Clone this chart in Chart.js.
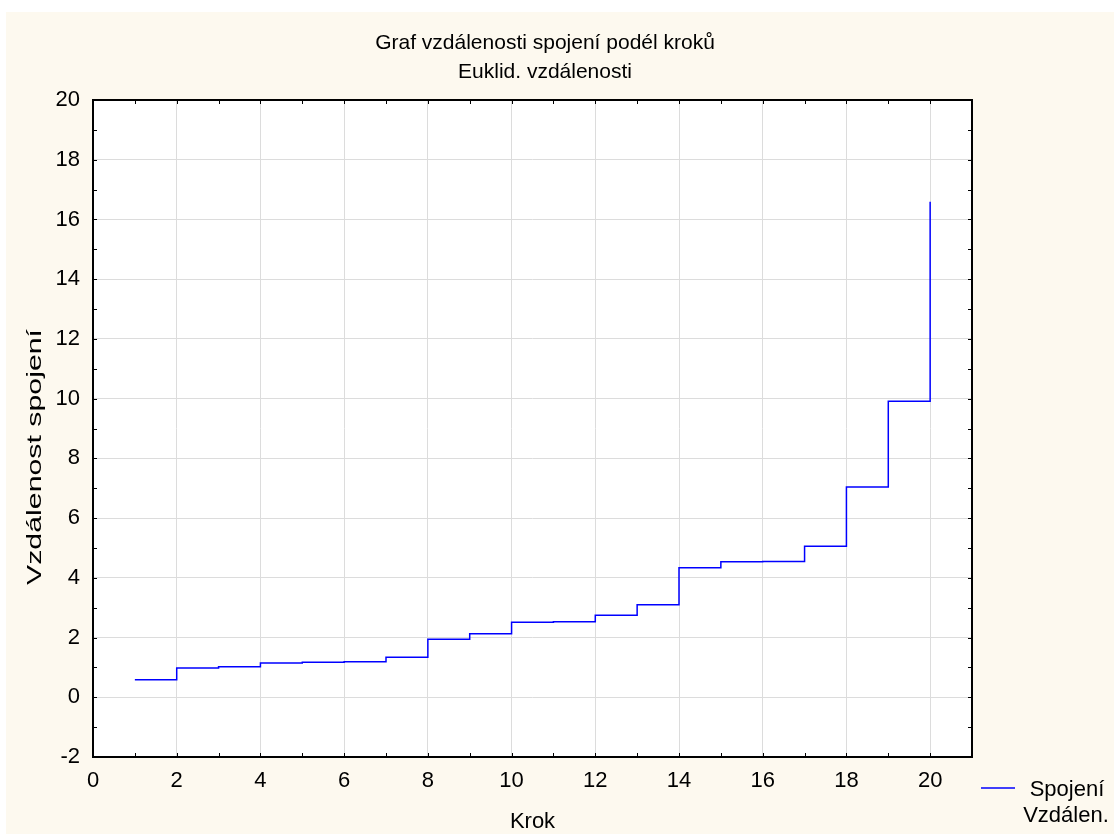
<!DOCTYPE html>
<html><head><meta charset="utf-8">
<script src="https://cdn.jsdelivr.net/npm/chart.js@4"></script>
<style>html,body{margin:0;padding:0;background:#fff;}#wrap{width:1114px;height:834px;position:relative;}</style>
</head><body><div id="wrap"><canvas id="c" width="1114" height="834"></canvas></div>
<script>
const chartTitle = ['Graf vzdálenosti spojení podél kroků', 'Euklid. vzdálenosti'];
const xAxisTitle = 'Krok';
const yAxisTitle = 'Vzdálenost spojení';
const legendLines = ['Spojení', 'Vzdálen.'];
const steps = [1, 2, 3, 4, 5, 6, 7, 8, 9, 10, 11, 12, 13, 14, 15, 16, 17, 18, 19, 20];
const distances = [0.59, 0.98, 1.02, 1.15, 1.17, 1.19, 1.34, 1.94, 2.13, 2.51, 2.53, 2.75, 3.10, 4.34, 4.54, 4.55, 5.06, 7.04, 9.91, 16.59];
const xTickLabels = [0, 2, 4, 6, 8, 10, 12, 14, 16, 18, 20];
const yTickLabels = [-2, 0, 2, 4, 6, 8, 10, 12, 14, 16, 18, 20];

const FONT = '"Liberation Sans", Arial, sans-serif';
const CREAM = '#fdf9ef';
const GRID = '#dcdcdc';

const framePlugin = {
  id: 'frame',
  beforeDraw(chart) {
    const ctx = chart.ctx, a = chart.chartArea;
    ctx.save();
    ctx.fillStyle = CREAM;
    ctx.fillRect(6, 12, chart.width - 6, chart.height - 12);
    ctx.fillStyle = '#ffffff';
    ctx.fillRect(a.left, a.top, a.right - a.left, a.bottom - a.top);
    ctx.restore();
  },
  afterDraw(chart) {
    const ctx = chart.ctx, a = chart.chartArea;
    const xs = chart.scales.x, ys = chart.scales.y;
    ctx.save();
    ctx.strokeStyle = '#000';
    ctx.lineWidth = 1;
    const tl = 4;
    ctx.beginPath();
    for (let v = xs.min; v <= xs.max; v++) {
      const px = Math.round(xs.getPixelForValue(v)) + 0.5;
      ctx.moveTo(px, a.bottom); ctx.lineTo(px, a.bottom - tl);
      ctx.moveTo(px, a.top); ctx.lineTo(px, a.top + tl);
    }
    for (let v = ys.min; v <= ys.max; v++) {
      const py = Math.round(ys.getPixelForValue(v)) + 0.5;
      ctx.moveTo(a.left, py); ctx.lineTo(a.left + tl, py);
      ctx.moveTo(a.right, py); ctx.lineTo(a.right - tl, py);
    }
    ctx.stroke();
    ctx.lineWidth = 2;
    ctx.strokeRect(a.left, a.top, a.right - a.left, a.bottom - a.top);

    ctx.fillStyle = '#000';
    ctx.textAlign = 'center';
    ctx.textBaseline = 'middle';

    // chart title
    ctx.font = '21px ' + FONT;
    ctx.fillText(chartTitle[0], 545, 43);
    ctx.fillText(chartTitle[1], 545, 72);

    // y axis title (stretched along its run like the reference)
    ctx.save();
    ctx.font = '20px ' + FONT;
    const w = ctx.measureText(yAxisTitle).width;
    ctx.translate(35, 457);
    ctx.rotate(-Math.PI / 2);
    ctx.scale(256 / w, 1);
    ctx.fillText(yAxisTitle, 0, 0);
    ctx.restore();

    // legend
    const ds = chart.data.datasets[0];
    ctx.strokeStyle = ds.borderColor;
    ctx.lineWidth = 1.5;
    ctx.beginPath();
    ctx.moveTo(981, 788); ctx.lineTo(1015, 788);
    ctx.stroke();
    ctx.font = '22px ' + FONT;
    ctx.fillText(legendLines[0], 1067, 790);
    ctx.fillText(legendLines[1], 1066, 816);
    ctx.restore();
  }
};

new Chart(document.getElementById('c'), {
  type: 'line',
  data: {
    datasets: [{
      label: legendLines.join(' '),
      data: steps.map((s, i) => ({ x: s, y: distances[i] })),
      stepped: true,
      borderColor: '#0000ff',
      borderWidth: 1.5,
      pointRadius: 0,
      fill: false
    }]
  },
  options: {
    responsive: false,
    animation: false,
    devicePixelRatio: 1,
    layout: { padding: { top: 100, right: 142, bottom: 0, left: 0 } },
    plugins: { legend: { display: false }, title: { display: false }, tooltip: { enabled: false } },
    scales: {
      x: {
        type: 'linear', min: 0, max: 21,
        afterFit(s) { s.height = 77; },
        border: { display: false },
        grid: {
          drawTicks: false,
          color: c => (c.tick && c.tick.value > 0 && c.tick.value <= 20 && c.tick.value % 2 === 0) ? GRID : 'rgba(0,0,0,0)',
          lineWidth: 1
        },
        ticks: {
          stepSize: 1, autoSkip: false, maxRotation: 0, padding: 11, color: '#000',
          font: { family: FONT, size: 22 },
          callback: v => xTickLabels.includes(v) ? String(v) : ''
        },
        title: { display: true, text: xAxisTitle, color: '#000', font: { family: FONT, size: 22, lineHeight: 1.1 }, padding: { top: 0, bottom: 0 } }
      },
      y: {
        type: 'linear', min: -2, max: 20,
        afterFit(s) { s.width = 93; },
        border: { display: false },
        grid: {
          drawTicks: false,
          color: c => (c.tick && c.tick.value >= 0 && c.tick.value < 20 && c.tick.value % 2 === 0) ? GRID : 'rgba(0,0,0,0)',
          lineWidth: 1
        },
        ticks: {
          stepSize: 1, autoSkip: false, padding: 13, color: '#000',
          font: { family: FONT, size: 22 },
          callback: v => yTickLabels.includes(v) ? String(v) : ''
        },
        title: { display: false }
      }
    }
  },
  plugins: [framePlugin]
});
</script></body></html>
